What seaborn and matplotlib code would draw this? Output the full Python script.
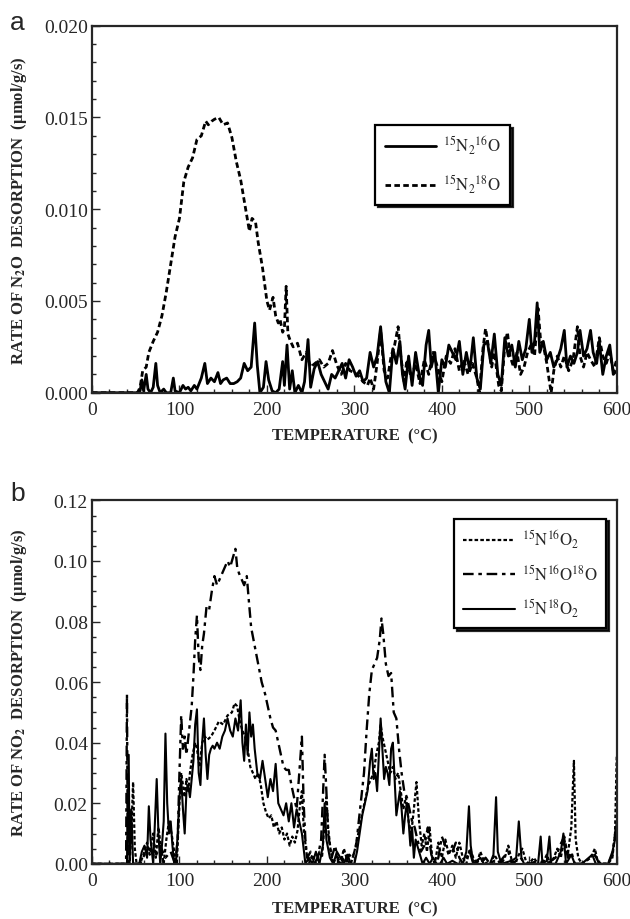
import numpy as np
import matplotlib
matplotlib.use("Agg")
import matplotlib.pyplot as plt
import seaborn as sns
from matplotlib.ticker import MultipleLocator, FormatStrFormatter

# ---- panel a: N2O desorption, values in 1e-3 umol/g/s ----
a_t_18 = [0, 52, 55, 58, 62, 65, 70, 75, 80, 85, 90, 95, 100, 105, 110, 115, 120, 125, 130, 133,
          137, 140, 145, 150, 155, 160, 165, 170, 175, 180, 183, 187, 190, 195, 200, 203, 207, 210,
          213, 215, 218, 220, 222, 224, 227, 230, 235, 240, 245, 250, 255, 260, 265, 270, 275, 280,
          285, 290, 295, 300, 305, 310, 315, 318, 322, 326, 330, 334, 338, 342, 346, 350, 353, 357,
          360, 365, 370, 375, 380, 385, 390, 395, 400, 405, 410, 415, 420, 425, 430, 435, 440, 443,
          447, 450, 453, 457, 460, 465, 468, 472, 475, 478, 482, 486, 490, 494, 498, 502, 506, 510,
          513, 516, 520, 523, 525, 528, 532, 536, 540, 545, 550, 555, 558, 562, 566, 570, 575, 580,
          584, 588, 592, 596, 600]
a_v_18 = [0, 0, 0.3, 1.2, 1.4, 2.2, 2.8, 3.3, 4.2, 5.5, 7.0, 8.5, 9.5, 11.5, 12.3, 12.8, 13.8, 14.0,
          14.8, 14.6, 14.8, 14.9, 15.0, 14.6, 14.7, 13.9, 12.6, 11.6, 10.2, 8.8, 9.5, 9.3, 8.2, 6.8,
          5.0, 4.5, 5.2, 4.2, 3.8, 4.0, 3.3, 3.5, 5.8, 3.2, 2.8, 2.5, 2.7, 1.8, 2.2, 1.4, 1.6, 1.8,
          1.4, 1.6, 2.3, 1.5, 1.0, 1.6, 1.2, 1.1, 0.9, 0.6, 0.4, 0.8, 0.2, 1.6, 3.4, 1.2, 0.8, 2.0,
          2.6, 3.6, 2.0, 0.6, 1.8, 0.8, 1.6, 0.5, 1.8, 1.0, 2.2, 1.4, 0.6, 2.0, 1.6, 2.4, 1.2, 1.8,
          1.0, 1.6, 0.8, 0.0, 2.4, 3.5, 2.6, 1.4, 2.2, 0.4, 0.1, 2.6, 3.3, 2.0, 1.4, 2.2, 1.0, 1.4,
          2.2, 2.6, 2.0, 4.6, 2.8, 2.6, 1.6, 0.6, 0.0, 1.2, 2.0, 1.4, 2.0, 1.2, 1.8, 3.6, 2.0, 1.4,
          2.2, 1.8, 1.4, 3.0, 2.0, 1.6, 2.2, 1.2, 1.8]

a_t_16 = [0, 52, 55, 57, 59, 62, 64, 67, 70, 73, 75, 78, 82, 85, 90, 93, 95, 100, 104, 107, 110,
          113, 117, 120, 125, 129, 132, 136, 140, 144, 147, 150, 154, 158, 162, 166, 170, 174, 178,
          182, 186, 189, 192, 196, 199, 202, 206, 210, 214, 218, 220, 223, 226, 229, 232, 236, 240,
          243, 247, 250, 254, 258, 262, 266, 270, 274, 278, 282, 286, 290, 294, 298, 302, 306, 310,
          314, 318, 322, 326, 330, 333, 336, 340, 344, 348, 352, 355, 358, 362, 366, 370, 374, 378,
          382, 385, 388, 392, 396, 400, 404, 408, 412, 416, 420, 424, 428, 432, 436, 440, 444, 448,
          452, 456, 460, 464, 468, 472, 476, 480, 484, 488, 492, 496, 500, 503, 506, 509, 512, 516,
          520, 524, 528, 532, 536, 540, 543, 547, 551, 555, 558, 562, 566, 570, 573, 577, 580, 584,
          588, 592, 596, 600]
a_v_16 = [0, 0, 0.1, 0.7, 0.1, 1.0, 0.2, 0.0, 0.3, 1.6, 0.4, 0.0, 0.2, 0.0, 0.0, 0.8, 0.1, 0.0, 0.4,
          0.2, 0.3, 0.1, 0.4, 0.2, 0.8, 1.6, 0.5, 0.8, 0.6, 1.1, 0.5, 0.7, 0.8, 0.5, 0.5, 0.6, 0.8,
          1.6, 1.2, 1.4, 3.8, 1.5, 0.0, 0.3, 1.7, 0.7, 0.1, 0.0, 0.2, 1.7, 0.4, 2.6, 0.2, 1.2, 0.0,
          0.4, 0.0, 0.6, 2.9, 0.3, 1.3, 1.7, 1.0, 0.6, 0.2, 1.0, 0.8, 1.2, 1.6, 0.8, 1.8, 1.4, 0.9,
          1.2, 0.6, 0.8, 2.2, 1.4, 2.0, 3.6, 2.0, 0.6, 0.0, 2.4, 1.6, 2.8, 1.0, 0.2, 2.0, 0.4, 2.2,
          1.0, 0.4, 2.6, 3.4, 1.4, 2.2, 0.0, 1.8, 1.4, 2.6, 2.2, 1.8, 2.8, 1.0, 2.2, 1.2, 3.0, 0.8,
          0.2, 2.6, 2.8, 1.6, 3.2, 1.0, 0.4, 3.0, 2.0, 2.6, 1.4, 2.8, 1.8, 2.4, 4.0, 2.2, 2.8, 4.9,
          2.2, 2.8, 1.8, 2.2, 1.4, 1.8, 2.4, 3.4, 1.4, 2.0, 1.6, 2.2, 3.4, 2.0, 2.4, 3.4, 2.2, 1.6,
          2.8, 1.0, 2.0, 2.6, 1.0, 1.2]

# ---- panel b: NO2 desorption, values in 1e-3 umol/g/s ----
b_t_1616 = [0, 43, 45, 47, 49, 51, 55, 60, 63, 66, 70, 73, 76, 79, 82, 85, 88, 91, 94, 97, 100, 102,
            104, 106, 108, 110, 112, 115, 118, 120, 123, 126, 129, 132, 136, 140, 145, 150, 155, 160,
            163, 166, 169, 172, 175, 178, 181, 184, 187, 190, 193, 196, 199, 202, 205, 208, 211, 214,
            217, 220, 223, 226, 229, 232, 235, 238, 240, 242, 245, 248, 252, 256, 260, 263, 266, 268,
            270, 273, 276, 280, 284, 288, 292, 296, 300, 303, 306, 310, 313, 316, 319, 322, 325, 328,
            330, 332, 335, 338, 341, 344, 347, 350, 353, 356, 359, 362, 365, 368, 371, 374, 377, 380,
            383, 386, 389, 392, 396, 400, 404, 408, 412, 416, 420, 424, 428, 432, 436, 440, 444, 448,
            452, 456, 460, 464, 468, 472, 476, 480, 484, 488, 492, 496, 500, 505, 510, 515, 520, 524,
            528, 532, 536, 540, 544, 548, 551, 553, 556, 560, 565, 570, 575, 578, 582, 586, 590, 595,
            598, 600]
b_v_1616 = [0, 0, 10, 27, 5, 0, 0, 4, 7, 3, 10, 2, 12, 5, 0, 8, 14, 10, 4, 0, 20, 30, 26, 22, 28, 24,
            30, 36, 40, 38, 32, 40, 42, 41, 42, 44, 47, 46, 49, 50, 53, 52, 47, 44, 42, 38, 32, 30, 28,
            30, 26, 20, 17, 15, 16, 12, 14, 10, 12, 8, 10, 6, 9, 7, 11, 20, 24, 12, 4, 0, 3, 0, 4, 2,
            14, 22, 12, 4, 0, 3, 0, 5, 1, 0, 4, 8, 12, 18, 22, 26, 28, 30, 36, 40, 46, 42, 38, 34, 30,
            32, 28, 30, 24, 18, 22, 14, 10, 18, 27, 14, 6, 10, 4, 12, 2, 0, 7, 2, 8, 3, 6, 2, 7, 2, 0,
            5, 2, 0, 4, 1, 0, 0, 3, 1, 0, 2, 6, 1, 0, 3, 5, 1, 0, 2, 0, 0, 3, 0, 2, 5, 2, 8, 3, 12, 34,
            8, 2, 0, 1, 2, 5, 1, 0, 0, 0, 2, 10, 36]

b_t_1618 = [0, 39, 40, 41, 55, 60, 66, 72, 78, 84, 90, 95, 98, 100, 102, 104, 106, 108, 111, 114, 116,
            118, 120, 122, 124, 126, 128, 131, 134, 137, 140, 143, 146, 149, 152, 155, 158, 161, 164,
            166, 168, 171, 174, 177, 179, 182, 186, 190, 194, 198, 201, 204, 207, 210, 213, 216, 219,
            222, 225, 228, 231, 234, 237, 240, 242, 244, 246, 250, 254, 258, 262, 266, 268, 270, 274,
            278, 282, 286, 290, 294, 298, 302, 305, 308, 311, 314, 317, 320, 323, 326, 329, 331, 333,
            336, 339, 342, 345, 348, 351, 354, 357, 360, 363, 366, 369, 372, 376, 380, 384, 388, 392,
            396, 400, 404, 408, 412, 416, 420, 424, 428, 432, 436, 440, 444, 450, 455, 460, 465, 470,
            476, 480, 490, 495, 500, 510, 520, 530, 535, 540, 544, 548, 552, 560, 570, 575, 580, 590,
            595, 600]
b_v_1618 = [0, 0, 56, 0, 0, 3, 5, 2, 6, 2, 4, 0, 8, 30, 49, 38, 42, 36, 44, 52, 62, 74, 82, 68, 64,
            72, 76, 85, 84, 90, 95, 92, 94, 96, 98, 100, 98, 101, 104, 98, 96, 94, 92, 95, 88, 78, 72,
            66, 60, 56, 52, 48, 45, 44, 40, 36, 32, 31, 31, 26, 22, 18, 30, 42, 20, 8, 2, 4, 0, 2, 8,
            36, 24, 10, 2, 6, 0, 2, 0, 3, 2, 6, 14, 22, 30, 44, 56, 64, 66, 68, 74, 81, 76, 66, 62, 63,
            50, 48, 38, 30, 24, 22, 18, 14, 12, 8, 4, 6, 12, 3, 0, 2, 9, 6, 3, 4, 7, 2, 0, 2, 4, 0, 1,
            0, 2, 0, 1, 0, 2, 4, 0, 2, 0, 0, 1, 0, 2, 6, 9, 2, 4, 0, 0, 2, 3, 0, 0, 3, 14]

b_t_1818 = [0, 40, 42, 43, 45, 47, 50, 54, 57, 60, 63, 65, 67, 70, 72, 74, 76, 78, 80, 82, 84, 86,
            88, 90, 92, 94, 96, 98, 100, 102, 104, 106, 108, 110, 112, 114, 116, 118, 120, 122, 124,
            126, 128, 130, 132, 134, 136, 138, 140, 143, 146, 149, 152, 155, 158, 161, 164, 167, 170,
            172, 174, 176, 178, 180, 182, 184, 186, 189, 192, 195, 198, 201, 204, 207, 210, 213, 216,
            219, 222, 225, 228, 231, 234, 237, 240, 242, 244, 248, 252, 256, 260, 264, 266, 268, 272,
            276, 280, 284, 288, 292, 296, 300, 303, 306, 309, 312, 315, 318, 320, 322, 324, 326, 328,
            330, 332, 334, 336, 338, 340, 342, 344, 346, 348, 350, 352, 354, 356, 358, 360, 362, 364,
            366, 368, 370, 374, 378, 382, 386, 390, 394, 398, 402, 406, 412, 418, 424, 428, 431, 433,
            436, 444, 448, 455, 459, 462, 464, 468, 480, 485, 488, 491, 494, 505, 510, 513, 515, 520,
            523, 525, 530, 536, 539, 542, 548, 552, 560, 568, 572, 576, 590, 595, 598, 600]
b_v_1818 = [0, 0, 36, 0, 18, 0, 0, 0, 4, 6, 2, 19, 8, 0, 14, 28, 10, 0, 6, 14, 43, 20, 10, 14, 6, 0,
            0, 10, 22, 28, 18, 10, 24, 26, 22, 28, 34, 46, 51, 30, 26, 40, 48, 36, 28, 36, 38, 39, 38,
            40, 38, 42, 44, 48, 44, 42, 48, 44, 54, 40, 34, 46, 36, 50, 42, 46, 38, 30, 28, 34, 28, 22,
            28, 24, 33, 20, 18, 16, 20, 14, 20, 12, 18, 14, 10, 5, 0, 2, 0, 4, 0, 6, 20, 8, 2, 0, 4, 2,
            0, 3, 0, 0, 4, 10, 16, 20, 24, 34, 38, 28, 30, 24, 36, 48, 38, 28, 32, 30, 26, 38, 40, 28,
            16, 20, 24, 18, 10, 16, 20, 14, 6, 12, 2, 8, 4, 0, 2, 0, 2, 0, 0, 2, 0, 1, 0, 0, 4, 19, 6,
            0, 2, 0, 0, 3, 22, 4, 0, 1, 2, 14, 2, 0, 0, 0, 9, 0, 1, 9, 0, 0, 4, 10, 0, 3, 0, 0, 2, 3, 0,
            0, 4, 8, 14]

sns.set_style("ticks")
plt.rcParams['font.family'] = ['Liberation Serif', 'DejaVu Serif']
plt.rcParams['mathtext.fontset'] = 'stix'

fig = plt.figure(figsize=(6.3, 9.2), dpi=100)
ax_a = fig.add_axes([0.146, 0.572, 0.833, 0.399])
ax_b = fig.add_axes([0.146, 0.060, 0.833, 0.395])


def draw(ax, t, v, ls, label, lw=1.6):
    sns.lineplot(x=np.array(t), y=np.array(v) * 1e-3, ax=ax, color='black',
                 linestyle=ls, linewidth=lw, label=label, estimator=None, sort=False)


draw(ax_a, a_t_16, a_v_16, '-', r'$^{15}\mathrm{N}_2{}^{16}\mathrm{O}$', lw=2.0)
draw(ax_a, a_t_18, a_v_18, (0, (2.0, 1.2)), r'$^{15}\mathrm{N}_2{}^{18}\mathrm{O}$', lw=2.0)

draw(ax_b, b_t_1616, b_v_1616, (0, (1.6, 1.0)), r'$^{15}\mathrm{N}^{16}\mathrm{O}_2$', lw=1.6)
draw(ax_b, b_t_1618, b_v_1618, (0, (4.5, 2, 1.5, 2)), r'$^{15}\mathrm{N}^{16}\mathrm{O}^{18}\mathrm{O}$', lw=1.7)
draw(ax_b, b_t_1818, b_v_1818, '-', r'$^{15}\mathrm{N}^{18}\mathrm{O}_2$', lw=1.5)

for ax, ymax, ystep, yminor, fmt in [(ax_a, 0.020, 0.005, 0.001, '%.3f'),
                                      (ax_b, 0.12, 0.02, 0.005, '%.2f')]:
    ax.set_xlim(0, 600)
    ax.set_ylim(0, ymax)
    ax.xaxis.set_major_locator(MultipleLocator(100))
    ax.xaxis.set_minor_locator(MultipleLocator(20))
    ax.yaxis.set_major_locator(MultipleLocator(ystep))
    ax.yaxis.set_minor_locator(MultipleLocator(yminor))
    ax.yaxis.set_major_formatter(FormatStrFormatter(fmt))
    ax.tick_params(which='both', direction='in', labelsize=14, width=1.0)
    ax.tick_params(which='major', length=6)
    ax.tick_params(which='minor', length=3)
    ax.tick_params(axis='x', pad=6)
    ax.tick_params(axis='y', pad=3)
    for s in ax.spines.values():
        s.set_visible(True)
        s.set_linewidth(1.6)
    ax.set_xlabel('TEMPERATURE  (°C)', fontsize=12, fontweight='bold', va='center')

ax_a.xaxis.set_label_coords(0.5, -0.117)
ax_b.xaxis.set_label_coords(0.5, -0.124)

ax_a.set_ylabel(r'RATE OF N$_\mathbf{2}$O  DESORPTION  (µmol/g/s)', fontsize=12, fontweight='bold')
ax_b.set_ylabel(r'RATE OF NO$_\mathbf{2}$  DESORPTION  (µmol/g/s)', fontsize=12, fontweight='bold')
ax_a.yaxis.set_label_coords(-0.12, 0.5)
ax_b.yaxis.set_label_coords(-0.12, 0.5)

leg_a = ax_a.legend(loc='upper left', bbox_to_anchor=(0.54, 0.73), frameon=True, fancybox=False,
                    shadow={'color': 'black', 'alpha': 0.85}, fontsize=12, handlelength=3.1,
                    borderpad=0.55, labelspacing=1.0, handletextpad=0.4, borderaxespad=0)
leg_b = ax_b.legend(loc='upper left', bbox_to_anchor=(0.69, 0.95), frameon=True, fancybox=False,
                    shadow={'color': 'black', 'alpha': 0.85}, fontsize=12, handlelength=3.1,
                    borderpad=0.55, labelspacing=0.8, handletextpad=0.4, borderaxespad=0)
for leg in (leg_a, leg_b):
    leg.get_frame().set_edgecolor('black')
    leg.get_frame().set_linewidth(1.6)
    leg.get_frame().set_alpha(1)

fig.text(0.016, 0.975, 'a', fontsize=19, family=['Liberation Sans', 'DejaVu Sans'], va='center')
fig.text(0.016, 0.463, 'b', fontsize=19, family=['Liberation Sans', 'DejaVu Sans'], va='center')

fig.savefig('out.png', dpi=100)
